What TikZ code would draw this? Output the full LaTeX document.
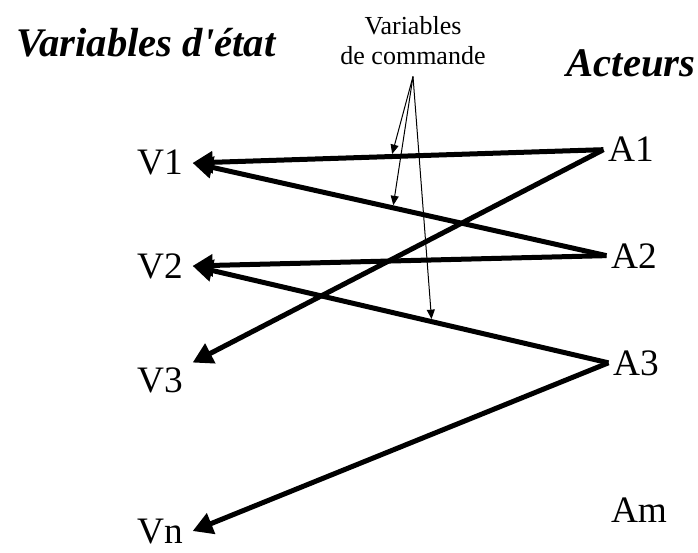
\documentclass[tikz,border=0pt]{standalone}
\usepackage{fontspec}
\setmainfont{Liberation Serif}
\usetikzlibrary{arrows.meta, positioning}

\begin{document}
\begin{tikzpicture}[
    x=0.75pt, y=-0.75pt,
    every node/.style={font=\fontsize{28}{30}\selectfont},
    state/.style={anchor=base, outer xsep=4pt},
    actor/.style={anchor=base},
    title/.style={anchor=base, font=\fontsize{30.5}{32}\selectfont\bfseries\itshape},
    cmd/.style={align=center, font=\fontsize{19.5}{22.5}\selectfont},
    link/.style={-{Triangle[length=15pt, width=16pt]}, line width=3.75pt},
    pointer/.style={-{Triangle[length=7pt, width=6pt]}, line width=0.75pt, shorten >=2pt}
]
    \useasboundingbox (0,0) rectangle (698,552);

    % headings
    \node[title] (states) at (146,57) {Variables d\textquotesingle état};
    \node[title] (actors) at (631,77) {Acteurs};
    \node[cmd] (cmd) at (413,41) {Variables\\de commande};
    \coordinate[below=5pt of cmd] (apex);

    % state variables
    \node[state] (v1) at (160,175) {V1};
    \node[state] (v2) at (160,278) {V2};
    \node[state] (v3) at (160,392) {V3};
    \node[state] (vn) at (160,543) {Vn};

    % actors
    \node[actor] (a1) at (631,162) {A1};
    \node[actor] (a2) at (634,268) {A2};
    \node[actor] (a3) at (636,375) {A3};
    \node[actor] (am) at (639,522) {Am};

    \draw[link] (a1.west) -- (v1.east) coordinate[pos=0.516] (t1);
    \draw[link] (a1.west) -- (v3.north east);
    \draw[link] (a2.west) -- (v2.east);
    \draw[link] (a2.west) -- (v1.east) coordinate[pos=0.516] (t2);
    \draw[link] (a3.west) -- (v2.east) coordinate[pos=0.425] (t3);
    \draw[link] (a3.west) -- (vn.east);

    \draw[pointer] (apex) -- (t1);
    \draw[pointer] (apex) -- (t2);
    \draw[pointer] (apex) -- (t3);
\end{tikzpicture}
\end{document}
